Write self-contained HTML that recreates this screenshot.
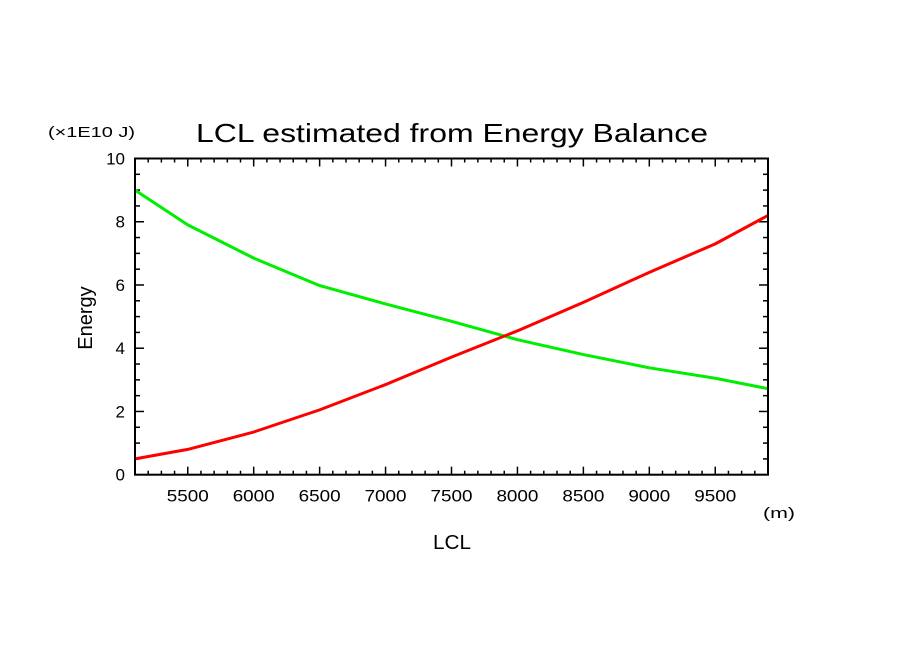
<!DOCTYPE html>
<html><head><meta charset="utf-8"><style>
html,body{margin:0;padding:0;background:#fff;}
svg{display:block;font-family:"Liberation Sans",sans-serif;}
</style></head><body>
<svg id="chart" width="904" height="654" viewBox="0 0 904 654" xmlns="http://www.w3.org/2000/svg">
<rect width="904" height="654" fill="#fff"/>
<text x="196" y="142" font-size="26" textLength="512" lengthAdjust="spacingAndGlyphs" fill="#000">LCL estimated from Energy Balance</text>
<text x="48" y="137" font-size="15" textLength="87" lengthAdjust="spacingAndGlyphs" fill="#000">(×1E10 J)</text>
<text x="92" y="318" font-size="20" text-anchor="middle" fill="#000" transform="rotate(-90 92 318)">Energy</text>
<text x="433" y="549" font-size="20" textLength="38" lengthAdjust="spacingAndGlyphs" fill="#000">LCL</text>
<text x="763" y="518" font-size="15" textLength="32" lengthAdjust="spacingAndGlyphs" fill="#000">(m)</text>
<g id="axes"></g>
<g id="series"></g>
<rect x="135" y="158.5" width="633" height="316.2" fill="none" stroke="#000" stroke-width="2"/>
</svg>
<script>
const xDomain = [5100, 9900];
const yDomain = [0, 10];
const xTicks = [5500, 6000, 6500, 7000, 7500, 8000, 8500, 9000, 9500];
const yTicks = [0, 2, 4, 6, 8, 10];
const lcl = [5100, 5500, 6000, 6500, 7000, 7500, 8000, 8500, 9000, 9500, 9900];
const greenEnergy = [9.0, 7.9, 6.85, 5.98, 5.4, 4.85, 4.27, 3.8, 3.38, 3.05, 2.72];
const redEnergy = [0.5, 0.8, 1.35, 2.05, 2.85, 3.72, 4.55, 5.45, 6.4, 7.3, 8.2];

const L=135,R=768,T=158.5,B=474.7;
const sx=v=>L+(v-xDomain[0])/(xDomain[1]-xDomain[0])*(R-L);
const sy=v=>B-(v-yDomain[0])/(yDomain[1]-yDomain[0])*(B-T);
const NS="http://www.w3.org/2000/svg";
const axes=document.getElementById('axes'), series=document.getElementById('series');
function line(x1,y1,x2,y2){const l=document.createElementNS(NS,'line');l.setAttribute('x1',x1);l.setAttribute('y1',y1);l.setAttribute('x2',x2);l.setAttribute('y2',y2);l.setAttribute('stroke','#000');l.setAttribute('stroke-width','1.5');axes.appendChild(l);return l;}
for(let v=5100; v<=9900; v+=100){
  const major=v%500===0, len=major?8:4, x=sx(v);
  const a=line(x,B,x,B-len);
  
  
  const b=line(x,T,x,T+len);
  
  
}
xTicks.forEach(v=>{const t=document.createElementNS(NS,'text');t.setAttribute('x',sx(v)-21);t.setAttribute('y',B+27);t.setAttribute('font-size','17');t.setAttribute('textLength','42');t.setAttribute('lengthAdjust','spacingAndGlyphs');t.textContent=v;


axes.appendChild(t);});
for(let v=0; v<=10.001; v+=0.5){
  const major=Math.abs(v-Math.round(v/2)*2)<1e-6, len=major?9:5, y=sy(v);
  const a=line(L,y,L+len,y);
  
  
  const b=line(R,y,R-len,y);
  
  
}
yTicks.forEach(v=>{const t=document.createElementNS(NS,'text');t.setAttribute('x',L-10);t.setAttribute('y',sy(v)+6);t.setAttribute('font-size','17');t.setAttribute('text-anchor','end');t.textContent=v;


axes.appendChild(t);});
function drawSeries(vals,color,name){
  const p=document.createElementNS(NS,'polyline');
  p.setAttribute('points',lcl.map((x,i)=>sx(x)+','+sy(vals[i])).join(' '));
  p.setAttribute('fill','none');p.setAttribute('stroke',color);p.setAttribute('stroke-width','3');p.setAttribute('stroke-linejoin','round');
  
  
  series.appendChild(p);
}
drawSeries(greenEnergy,'#00ee00','green-energy-line');
drawSeries(redEnergy,'#ff0000','red-energy-line');
</script>
</body></html>
